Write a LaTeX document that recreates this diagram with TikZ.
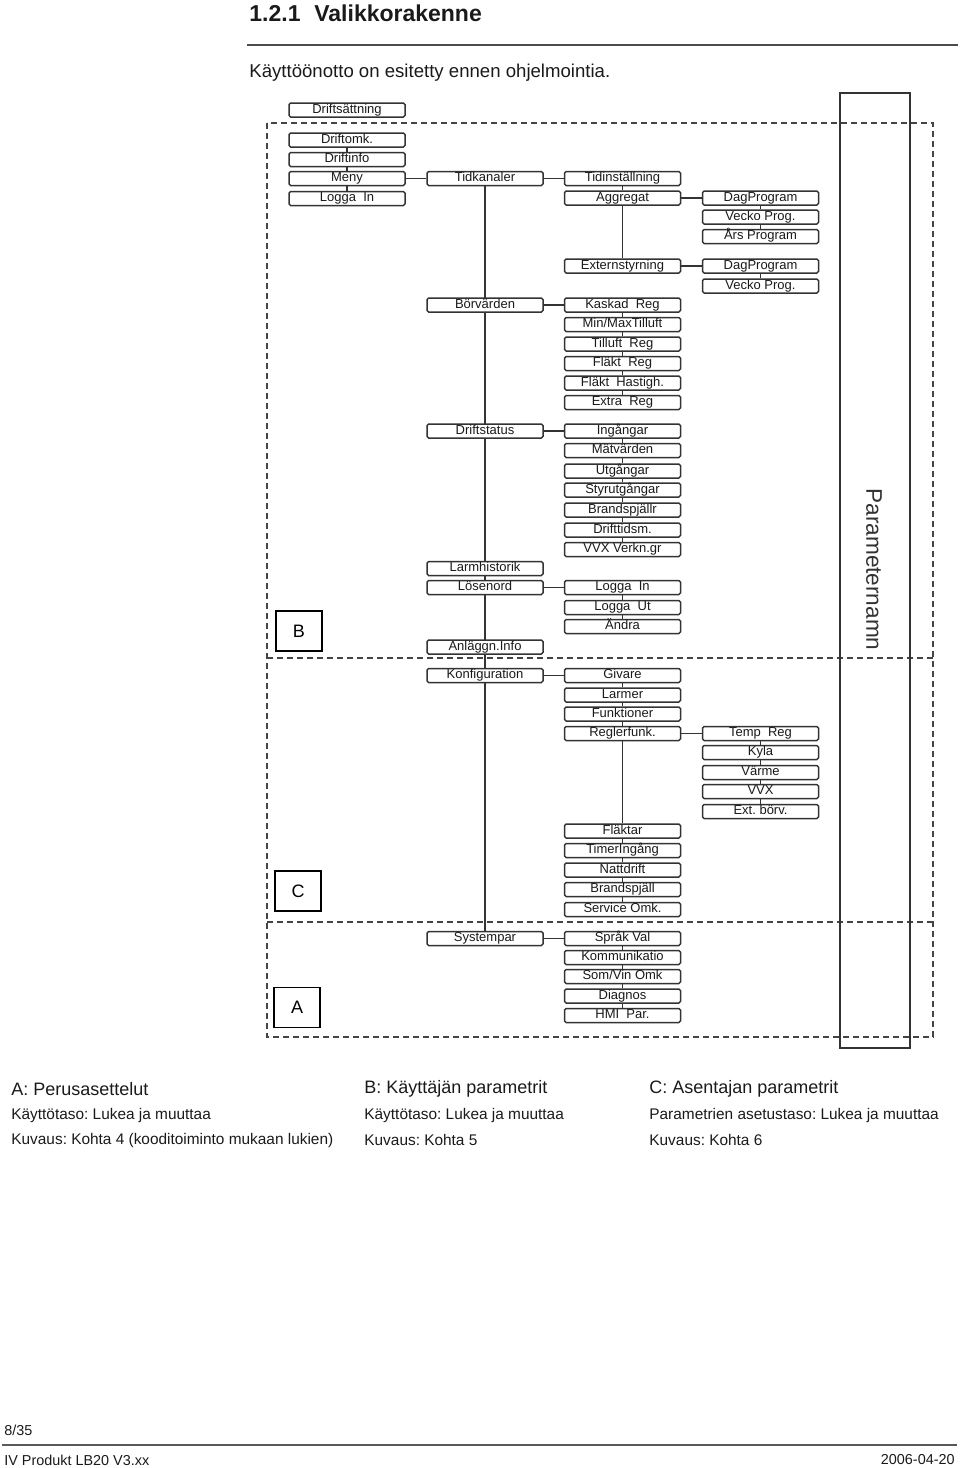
\documentclass[tikz,border=0pt]{standalone}
\usepackage{fontspec}
\setmainfont{Liberation Sans}
\usetikzlibrary{backgrounds}
\frenchspacing
\definecolor{boxc}{HTML}{333333}
\definecolor{dashc}{HTML}{444444}
\definecolor{txtc}{HTML}{1A1A1A}
\tikzset{
  mbox/.style={draw=boxc, fill=white, line width=0.75pt, rounded corners=0.8pt, minimum width=58pt, minimum height=7pt, inner sep=0pt, text height=4.7pt, text depth=1.3pt, text=txtc, font=\fontsize{6.5}{7}\selectfont},
  conn/.style={draw=boxc, line width=0.7pt},
  dashl/.style={draw=dashc, line width=0.6pt, dash pattern=on 3pt off 2pt},
  lbl/.style={draw=black, line width=0.6pt, minimum width=23pt, minimum height=20pt, inner sep=0pt, font=\fontsize{9}{10}\selectfont},
  ptxt/.style={anchor=west, inner sep=0pt, text=txtc},
}
\begin{document}
\begin{tikzpicture}[x=0.5pt, y=-0.5pt]
\useasboundingbox (0,0) rectangle (960,1468);
% header
\node[ptxt, font=\fontsize{11.5}{12}\bfseries] (title) at (249,13) {1.2.1\hspace{0.6em}Valikkorakenne};
\draw[draw=black!70, line width=0.7pt] (247,45) -- (958,45);
\node[ptxt, font=\fontsize{9.3}{10}\selectfont] (intro) at (249,73) {Käyttöönotto on esitetty ennen ohjelmointia.};

% dashed regions
\draw[dashl] (267,123) rectangle (933,1037);
\draw[dashl] (267,658) -- (933,658);
\draw[dashl] (267,922) -- (933,922);

% parameter bar
\draw[draw=boxc, line width=0.7pt] (840,93) rectangle (910,1048);
\node[rotate=-90, font=\fontsize{11.3}{12}\selectfont, text=boxc, inner sep=0pt] (pn) at (874,569.5) {Parameternamn};

% level labels
\node[lbl] (B) at (299,631) {B};
\node[lbl] (C) at (298,891) {C};
\node[lbl] (A) at (297,1007.5) {A};

% column 1
\node[mbox] (d0) at (347,110) {Driftsättning};
\node[mbox] (d1) at (347,140) {Driftomk.};
\node[mbox] (d2) at (347,159.5) {Driftinfo};
\node[mbox] (d3) at (347,178.5) {Meny};
\node[mbox] (d4) at (347,198.5) {Logga\ \ In};

% column 2
\node[mbox] (t)  at (485,178.5) {Tidkanaler};
\node[mbox] (b)  at (485,305) {Börvärden};
\node[mbox] (ds) at (485,431) {Driftstatus};
\node[mbox] (lh) at (485,568.5) {Larmhistorik};
\node[mbox] (lo) at (485,587.5) {Lösenord};
\node[mbox] (ai) at (485,647) {Anläggn.Info};
\node[mbox] (kf) at (485,675.5) {Konfiguration};
\node[mbox] (sp) at (485,938.5) {Systempar};

% column 3
\node[mbox] (ti) at (622.5,178.5) {Tidinställning};
\node[mbox] (ag) at (622.5,198) {Aggregat};
\node[mbox] (ex) at (622.5,266) {Externstyrning};
\node[mbox] (k1) at (622.5,305) {Kaskad\ \ Reg};
\node[mbox] (k2) at (622.5,324.5) {Min/MaxTilluft};
\node[mbox] (k3) at (622.5,344) {Tilluft\ \ Reg};
\node[mbox] (k4) at (622.5,363.5) {Fläkt\ \ Reg};
\node[mbox] (k5) at (622.5,383) {Fläkt\ \ Hastigh.};
\node[mbox] (k6) at (622.5,402.5) {Extra\ \ Reg};
\node[mbox] (i1) at (622.5,431) {Ingångar};
\node[mbox] (i2) at (622.5,450.5) {Mätvärden};
\node[mbox] (i3) at (622.5,471) {Utgångar};
\node[mbox] (i4) at (622.5,490) {Styrutgångar};
\node[mbox] (i5) at (622.5,510) {Brandspjällr};
\node[mbox] (i6) at (622.5,530) {Drifttidsm.};
\node[mbox] (i7) at (622.5,549.5) {VVX Verkn.gr};
\node[mbox] (l1) at (622.5,587.5) {Logga\ \ In};
\node[mbox] (l2) at (622.5,607.5) {Logga\ \ Ut};
\node[mbox] (l3) at (622.5,626.5) {Ändra};
\node[mbox] (g1) at (622.5,675.5) {Givare};
\node[mbox] (g2) at (622.5,695) {Larmer};
\node[mbox] (g3) at (622.5,714) {Funktioner};
\node[mbox] (g4) at (622.5,733.5) {Reglerfunk.};
\node[mbox] (f1) at (622.5,831) {Fläktar};
\node[mbox] (f2) at (622.5,850.5) {TimerIngång};
\node[mbox] (f3) at (622.5,870) {Nattdrift};
\node[mbox] (f4) at (622.5,889.5) {Brandspjäll};
\node[mbox] (f5) at (622.5,909.5) {Service Omk.};
\node[mbox] (s1) at (622.5,938.5) {Språk Val};
\node[mbox] (s2) at (622.5,957.5) {Kommunikatio};
\node[mbox] (s3) at (622.5,976.5) {Som/Vin Omk};
\node[mbox] (s4) at (622.5,996) {Diagnos};
\node[mbox] (s5) at (622.5,1015.5) {HMI\ \ Par.};

% column 4
\node[mbox] (p1) at (760.5,198) {DagProgram};
\node[mbox] (p2) at (760.5,217) {Vecko Prog.};
\node[mbox] (p3) at (760.5,236.5) {Års Program};
\node[mbox] (q1) at (760.5,266) {DagProgram};
\node[mbox] (q2) at (760.5,286) {Vecko Prog.};
\node[mbox] (r1) at (760.5,733.5) {Temp\ \ Reg};
\node[mbox] (r2) at (760.5,752.5) {Kyla};
\node[mbox] (r3) at (760.5,772.5) {Värme};
\node[mbox] (r4) at (760.5,791.5) {VVX};
\node[mbox] (r5) at (760.5,811.5) {Ext. börv.};

% connectors
\begin{scope}[on background layer]
\foreach \u/\v in {d1/d2,d2/d3,d3/d4,t/sp,ti/ag,ag/ex,p1/p2,p2/p3,q1/q2,
  k1/k2,k2/k3,k3/k4,k4/k5,k5/k6,i1/i2,i2/i3,i3/i4,i4/i5,i5/i6,i6/i7,
  l1/l2,l2/l3,g1/g2,g2/g3,g3/g4,g4/f1,r1/r2,r2/r3,r3/r4,r4/r5,
  f1/f2,f2/f3,f3/f4,f4/f5,s1/s2,s2/s3,s3/s4,s4/s5}
  \draw[conn] (\u.south) -- (\u.south |- \v.north);
\foreach \u/\v in {d3/t,t/ti,ag/p1,ex/q1,b/k1,ds/i1,lo/l1,kf/g1,g4/r1,sp/s1}
  \draw[conn] (\u.east) -- (\u.east -| \v.west);
\end{scope}

% legend
\node[ptxt, font=\fontsize{9}{10}\selectfont] (la1) at (11,1089) {A: Perusasettelut};
\node[ptxt, font=\fontsize{7.7}{9}\selectfont] (la2) at (11,1116) {Käyttötaso: Lukea ja muuttaa};
\node[ptxt, font=\fontsize{7.7}{9}\selectfont] (la3) at (11,1140) {Kuvaus: Kohta 4 (kooditoiminto mukaan lukien)};
\node[ptxt, font=\fontsize{9}{10}\selectfont] (lb1) at (364,1089) {B: Käyttäjän parametrit};
\node[ptxt, font=\fontsize{7.7}{9}\selectfont] (lb2) at (364,1116) {Käyttötaso: Lukea ja muuttaa};
\node[ptxt, font=\fontsize{7.7}{9}\selectfont] (lb3) at (364,1140) {Kuvaus: Kohta 5};
\node[ptxt, font=\fontsize{9}{10}\selectfont] (lc1) at (649,1089) {C: Asentajan parametrit};
\node[ptxt, font=\fontsize{7.7}{9}\selectfont] (lc2) at (649,1116) {Parametrien asetustaso: Lukea ja muuttaa};
\node[ptxt, font=\fontsize{7.7}{9}\selectfont] (lc3) at (649,1140) {Kuvaus: Kohta 6};

% footer
\node[ptxt, font=\fontsize{7.2}{8}\selectfont] (pg) at (4,1430) {8/35};
\draw[draw=black!65, line width=0.9pt] (2,1445) -- (957,1445);
\node[ptxt, font=\fontsize{7.2}{8}\selectfont] (ft) at (4,1460) {IV Produkt LB20 V3.xx};
\node[anchor=east, inner sep=0pt, text=txtc, font=\fontsize{7.2}{8}\selectfont] (dt) at (955,1460) {2006-04-20};
\end{tikzpicture}
\end{document}
